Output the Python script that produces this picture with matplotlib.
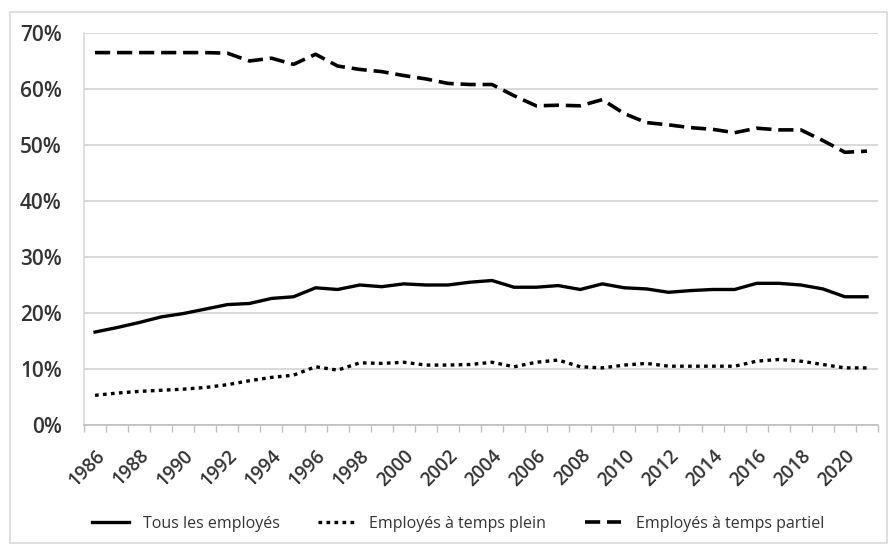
import numpy as np
import matplotlib.pyplot as plt
from matplotlib.patches import Rectangle

plt.rcParams['font.family'] = ['Open Sans', 'DejaVu Sans']

# annees et parts (en %)
annees = list(range(1986, 2022))

tous = [16.6, 17.4, 18.3, 19.3, 19.9, 20.7, 21.5, 21.7, 22.6, 22.9,
        24.5, 24.2, 25.0, 24.7, 25.2, 25.0, 25.0, 25.5, 25.8, 24.6,
        24.6, 24.9, 24.2, 25.2, 24.5, 24.3, 23.7, 24.0, 24.2, 24.2,
        25.3, 25.3, 25.0, 24.3, 22.9, 22.9]

plein = [5.3, 5.7, 6.0, 6.2, 6.4, 6.7, 7.2, 7.9, 8.5, 8.9,
         10.4, 9.8, 11.1, 11.0, 11.2, 10.7, 10.7, 10.8, 11.2, 10.4,
         11.2, 11.6, 10.4, 10.2, 10.7, 11.0, 10.5, 10.5, 10.5, 10.5,
         11.4, 11.7, 11.4, 10.8, 10.2, 10.2]

partiel = [66.5, 66.5, 66.5, 66.5, 66.5, 66.5, 66.4, 65.0, 65.5, 64.4,
           66.2, 64.1, 63.5, 63.1, 62.4, 61.8, 61.0, 60.8, 60.8, 58.8,
           57.0, 57.1, 57.0, 58.1, 55.6, 54.0, 53.6, 53.1, 52.8, 52.2,
           53.0, 52.7, 52.7, 50.8, 48.7, 48.9]

noms = ['Tous les employés', 'Employés à temps plein', 'Employés à temps partiel']

gris_txt = '#333333'
gris_grille = '#d9d9d9'

fig = plt.figure(figsize=(8.89, 5.49), dpi=100)
# cadre autour du graphique
fig.patches.append(Rectangle((10 / 889, 6 / 549), 877 / 889, 531 / 549,
                             transform=fig.transFigure, fill=False,
                             edgecolor='#d9d9d9', lw=1.2))

ax = fig.add_axes([84 / 889, 1 - 425 / 549, 794 / 889, 392 / 549])
x = np.arange(len(annees))

ax.plot(x, tous, color='black', lw=2.4, solid_joinstyle='round',
        label=noms[0])
ax.plot(x, plein, color='black', lw=2.4, dashes=(1.1, 1.3),
        dash_capstyle='butt', label=noms[1])
ax.plot(x, partiel, color='black', lw=2.6, dashes=(4.2, 1.9),
        dash_capstyle='butt', label=noms[2])

ax.set_xlim(-0.5, len(annees) - 0.5)
ax.set_ylim(0, 70)
ax.set_yticks(np.arange(0, 71, 10))
ax.set_yticklabels([f'{v}%' for v in range(0, 71, 10)],
                   fontweight='semibold')
ax.yaxis.grid(True, color=gris_grille, lw=1.4)
ax.set_axisbelow(True)

ax.set_xticks(x[::2])
ax.set_xticklabels([str(a) for a in annees[::2]], rotation=45,
                   ha='right', va='top', rotation_mode='anchor',
                   fontweight='semibold')
ax.set_xticks(np.arange(-0.5, len(annees), 1), minor=True)
ax.tick_params(axis='x', which='major', length=0, pad=15,
               labelsize=13.5, labelcolor=gris_txt)
ax.tick_params(axis='x', which='minor', length=5, width=1,
               color='#bfbfbf')
ax.tick_params(axis='y', length=0, pad=16, labelsize=15,
               labelcolor=gris_txt)

for side in ['top', 'right']:
    ax.spines[side].set_visible(False)
ax.spines['left'].set_color(gris_grille)
ax.spines['left'].set_linewidth(1.2)
ax.spines['bottom'].set_color('#bfbfbf')
ax.spines['bottom'].set_linewidth(1.2)

leg = fig.legend(loc='center', bbox_to_anchor=(458 / 889, 1 - 524 / 549),
                 ncol=3, frameon=False, fontsize=11.5, handlelength=2.3,
                 handletextpad=0.9, columnspacing=2.4)
for t in leg.get_texts():
    t.set_color(gris_txt)

fig.savefig('out.png', dpi=100)
